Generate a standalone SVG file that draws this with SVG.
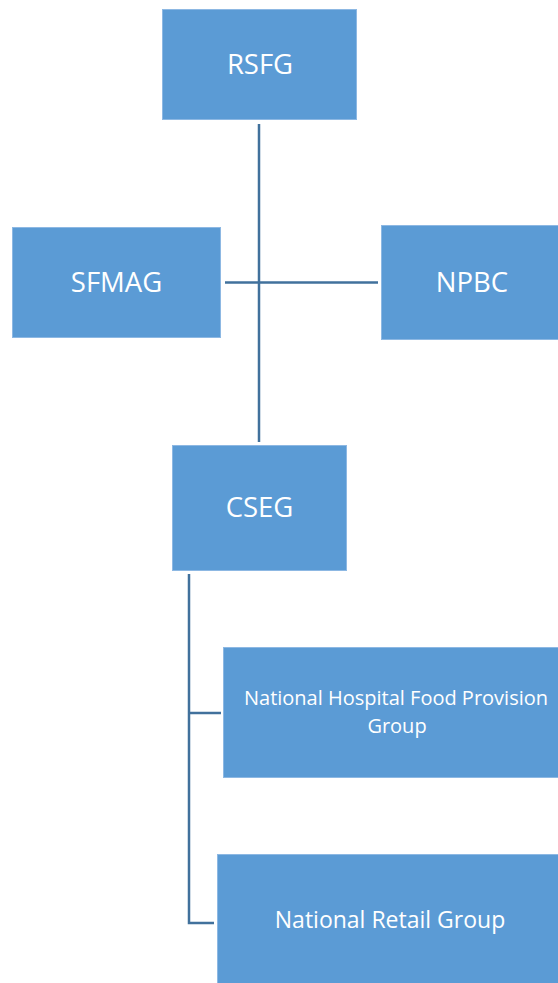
<svg xmlns="http://www.w3.org/2000/svg" width="558" height="983" viewBox="0 0 558 983">
<style>
.box{fill:#5B9BD5;stroke:#8DB8E3;stroke-width:1}
.lbl{font-family:"Open Sans","Noto Sans",sans-serif;fill:#FFFFFF;text-anchor:middle}
.big{font-size:27.5px}
.mid{font-size:23px}
.sm{font-size:20px}
.conn{stroke:#41719C;stroke-width:2.5;fill:none}
</style>
<rect width="558" height="983" fill="#FFFFFF"/>
<g id="connectors">
<line class="conn" x1="259" y1="124" x2="259" y2="442"/>
<line class="conn" x1="225" y1="282.5" x2="378" y2="282.5"/>
<polyline class="conn" points="189,574 189,923 214,923"/>
<line class="conn" x1="189" y1="713" x2="221" y2="713"/>
</g>
<g id="RSFG">
<rect class="box" x="162.5" y="9.5" width="194" height="110"/>
<text class="lbl big" x="260" y="74">RSFG</text>
</g>
<g id="SFMAG">
<rect class="box" x="12.5" y="227.5" width="208" height="110"/>
<text class="lbl big" x="116.5" y="292">SFMAG</text>
</g>
<g id="NPBC">
<rect class="box" x="381.5" y="225.5" width="180" height="114"/>
<text class="lbl big" x="472" y="292">NPBC</text>
</g>
<g id="CSEG">
<rect class="box" x="172.5" y="445.5" width="174" height="125"/>
<text class="lbl big" x="259.5" y="517">CSEG</text>
</g>
<g id="NHFPG">
<rect class="box" x="223.5" y="647.5" width="338" height="130"/>
<text class="lbl sm" x="396" y="705">National Hospital Food Provision</text>
<text class="lbl sm" x="397" y="733">Group</text>
</g>
<g id="NRG">
<rect class="box" x="217.5" y="854.5" width="344" height="132"/>
<text class="lbl mid" x="390" y="928">National Retail Group</text>
</g>
</svg>
